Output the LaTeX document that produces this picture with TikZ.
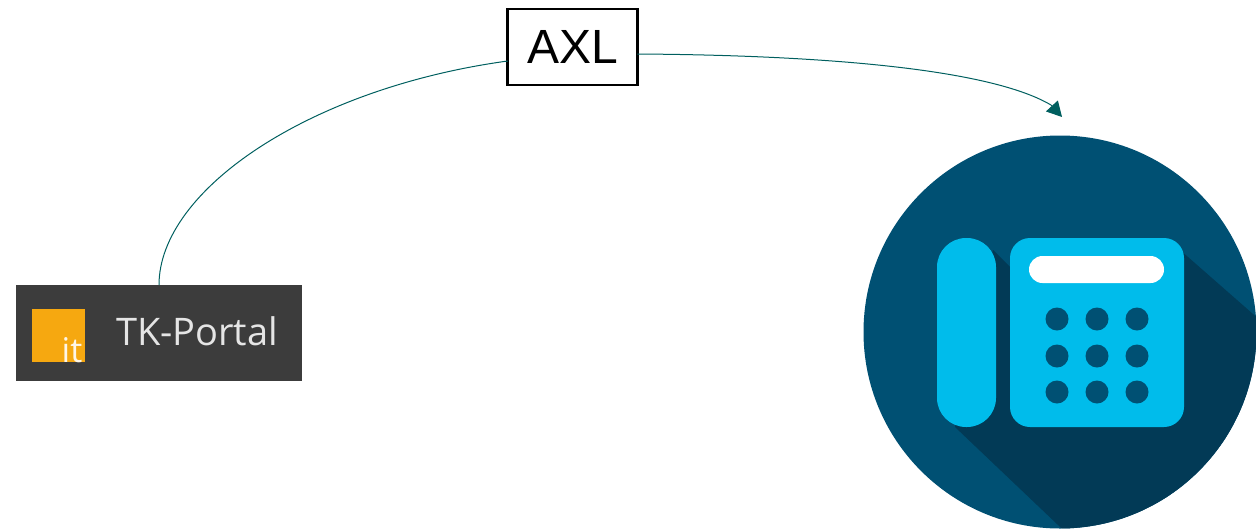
\documentclass[tikz,border=0pt]{standalone}
\usepackage{fontspec}
\setmainfont{Liberation Sans}
\newfontfamily\portalfont{Open Sans}
\usetikzlibrary{arrows.meta}
\definecolor{phonebg}{HTML}{005073}
\definecolor{phoneshadow}{HTML}{023A56}
\definecolor{phonecyan}{HTML}{00BCEB}
\definecolor{linkteal}{HTML}{005F5F}
\definecolor{portalbg}{HTML}{3C3C3C}
\definecolor{portalorange}{HTML}{F6A810}
\tikzset{
  link/.style={draw=linkteal,line width=1pt},
  keydot/.style={circle,fill=phonebg,inner sep=0pt,minimum size=23pt},
  flat/.style={inner sep=0pt,outer sep=0pt}
}
\begin{document}
\begin{tikzpicture}[x=1pt,y=-1pt]
\useasboundingbox (0,0) rectangle (1256,531);
% portal badge
\node[flat,fill=portalbg,minimum width=286pt,minimum height=96pt] (tk) at (159,333) {};
\node[flat,fill=portalorange,minimum width=53pt,minimum height=53pt] (logo) at (58.5,335.5) {};
\node[flat,anchor=base,text=white!90!portalorange,font=\portalfont\fontsize{34}{36}\selectfont] (logoit) at (72,362) {it};
\node[flat,anchor=base west,text=white!90!black,font=\portalfont\fontsize{38}{42}\selectfont] (tklabel) at (116,345.5) {TK-Portal};
% phone
\node[flat,circle,fill=phonebg,minimum size=393pt] (phone) at (1060,332) {};
\begin{scope}
  \clip (1060,332) circle (196.5pt);
  \fill[phoneshadow] (993,250) -- (1012,269) -- (1180,250) -- (1400,443) -- (1260,622) -- (1160,622) -- (955,427) -- cycle;
\end{scope}
\fill[phonecyan,rounded corners=29pt] (937,238) rectangle (996,427);
\node[flat,fill=phonecyan,rounded corners=20pt,minimum width=174pt,minimum height=189pt] (body) at (1097,332.5) {};
\node[flat,fill=white,rounded corners=13.5pt,minimum width=135pt,minimum height=27pt] (display) at (1096.5,269.5) {};
\foreach \r/\y in {a/319,b/356,c/392}{
  \foreach \c/\x in {a/1057,b/1097,c/1137}{
    \node[keydot] (key\r\c) at (\x,\y) {};
  }
}
% AXL box
\node[flat,draw=black,fill=white,line width=2.6pt,minimum width=129.5pt,minimum height=76pt,font=\fontsize{48}{50}\selectfont] (axl) at (572.5,47) {AXL};
% connectors
\coordinate (tip) at (1062,117);
\coordinate (bend) at (1051,105);
\draw[link] (tk.north) .. controls (159,190) and (310,88) .. ([yshift=-14pt]axl.west);
\draw[link,-{Triangle[length=15pt,width=16pt]}] ([yshift=-7pt]axl.east) .. controls (800,55) and (985,66) .. (bend) -- (tip);
\end{tikzpicture}
\end{document}
